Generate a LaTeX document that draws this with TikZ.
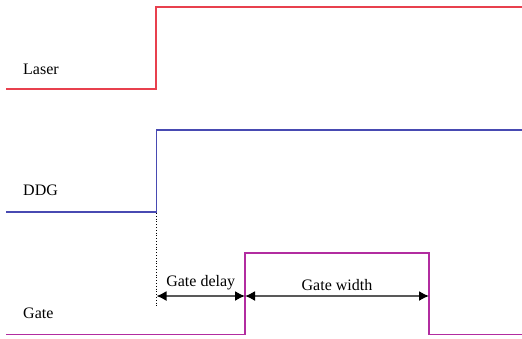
\documentclass[tikz,border=0pt]{standalone}
\usepackage{fontspec}
\setmainfont{Liberation Serif}
\usetikzlibrary{arrows.meta}
\definecolor{laserred}{RGB}{232,64,78}
\definecolor{ddgblue}{RGB}{72,74,178}
\definecolor{gatemag}{RGB}{178,44,160}
\tikzset{
  wave/.style={line width=1.4pt},
  lbl/.style={font=\fontsize{16}{19}\selectfont, inner sep=0pt},
  span/.style={line width=1.5pt, draw=black!65, {Latex[length=10pt,width=10pt,black]}-{Latex[length=10pt,width=10pt,black]}},
}
\begin{document}
\begin{tikzpicture}[x=1pt,y=-1pt]
\useasboundingbox[fill=white] (0,0) rectangle (522,338);
% signal labels
\node[lbl, anchor=west] (laserlbl) at (23,69) {Laser};
\node[lbl, anchor=west] (ddglbl) at (23,190) {DDG};
\node[lbl, anchor=west] (gatelbl) at (23,313) {Gate};
% waveforms
\draw[wave, laserred] (6,89) -- (156,89) -- (156,7) -- (522,7);
\draw[wave, ddgblue] (6,212) -- (156.5,212) -- (156.5,130) -- (522,130);
\coordinate (trig) at (156.5,213);
\coordinate (trigend) at (156.5,308);
\coordinate (gon) at (245,296);
\coordinate (goff) at (429,296);
\coordinate (dstart) at (156.5,296);
\draw[wave, gatemag] (6,334.5) -- (245,334.5) -- (245,253) -- (429,253) -- (429,334.5) -- (522,334.5);
% timing annotations
\draw[dotted, line width=0.8pt] (trig) -- (trigend);
\draw[span] (dstart) -- node[lbl, above=5pt] (delaylbl) {Gate delay} (gon);
\draw[span] (gon) -- node[lbl, above=5pt] (widthlbl) {Gate width} (goff);
\end{tikzpicture}
\end{document}
